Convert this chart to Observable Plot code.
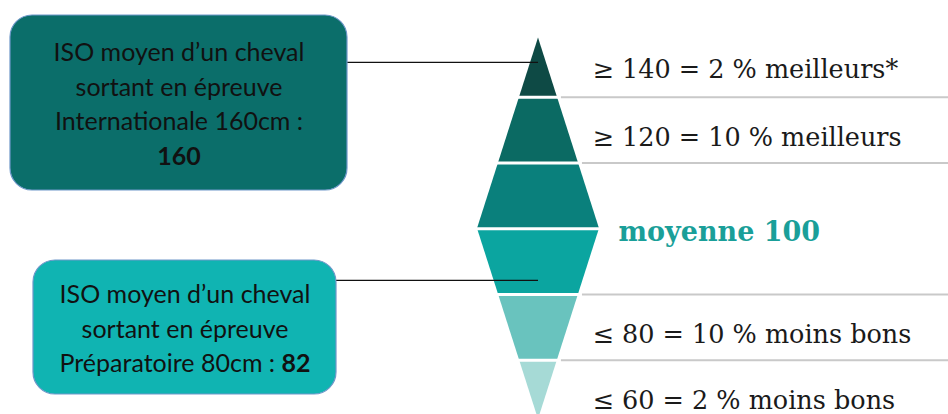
<!DOCTYPE html>
<html><head><meta charset="utf-8">
<script src="https://cdn.jsdelivr.net/npm/d3@7"></script>
<script src="https://cdn.jsdelivr.net/npm/@observablehq/plot@0.6"></script>
<style>body{margin:0;background:#fff;overflow:hidden}</style>
</head><body><div id="chart"></div>
<script>
// ---- data (ISO scale) ----
const bandTop    = [158, 140, 120, 100, 80, 60];
const bandBottom = [140, 120, 100, 80, 60, 42];
const bandColors = ["#0e4a45", "#0b6a63", "#0a807c", "#0ba5a0", "#69c3be", "#a6dad6"];
const boundaries = [140, 120, 100, 80, 60];
const separatorIso = [140, 120, 80, 60];
const labelTexts = ["≥ 140 = 2 % meilleurs*", "≥ 120 = 10 % meilleurs", "moyenne 100", "≤ 80 = 10 % moins bons", "≤ 60 = 2 % moins bons"];
const labelIso   = [148.2, 127.6, 98.8, 67.7, 47.7];
const labelBold  = [false, false, true, false, false];
const calloutIso = [150.6, 84.3];
const calloutFill = ["#0b6e6a", "#10b4b2"];
const calloutText = [
  [[["ISO moyen d’un cheval", false]], [["sortant en épreuve", false]], [["Internationale 160cm :", false]], [["160", true]]],
  [[["ISO moyen d’un cheval", false]], [["sortant en épreuve", false]], [["Préparatoire 80cm : ", false], ["82", true]]]
];

// ---- layout ----
const W = 948, H = 414;
const cx = 538, maxHW = 61, apexTop = 158, apexBottom = 42, mid = 100;
const yOpts = {domain: [160, 40], range: [31, 425.5]};
const ys = Plot.scale({y: yOpts});
const boxPx = [{x1: 10, x2: 347, top: 15, bottom: 190}, {x1: 33, x2: 336, top: 260, bottom: 394}];
const hw = v => maxHW * (1 - Math.abs(v - mid) / (apexTop - mid));

// diamond bands
const bandPts = bandTop.flatMap((t, i) => [t, bandBottom[i]].map(v => ({band: i, y: v, x1: cx - hw(v), x2: cx + hw(v)})));

// box text segments measured with canvas
const ctx = document.createElement("canvas").getContext("2d");
const boxFont = "Lato", boxSize = 25, lineGap = 34.5;
const segs = [];
calloutText.forEach((lines, b) => {
  const bx = boxPx[b], ccx = (bx.x1 + bx.x2) / 2, ccy = (bx.top + bx.bottom) / 2 + 2;
  lines.forEach((line, li) => {
    const widths = line.map(([t, bold]) => { ctx.font = `${bold ? "bold " : ""}${boxSize}px ${boxFont}`; return ctx.measureText(t).width; });
    const total = d3.sum(widths);
    let x = ccx - total / 2;
    const y = ys.invert(ccy + (li - (lines.length - 1) / 2) * lineGap);
    line.forEach(([t, bold], k) => { segs.push({t, bold, x, y}); x += widths[k]; });
  });
});

const boxes = boxPx.map((b, i) => ({x1: b.x1, x2: b.x2, y1: ys.invert(b.top), y2: ys.invert(b.bottom), fill: calloutFill[i]}));
const labels = labelTexts.map((t, i) => ({t, y: labelIso[i], bold: labelBold[i]}));

const plot = Plot.plot({
  width: W, height: H,
  marginTop: 0, marginBottom: 0, marginLeft: 0, marginRight: 0,
  x: {domain: [0, W], range: [0, W], axis: null},
  y: {...yOpts, axis: null},
  style: {background: "white", overflow: "hidden"},
  marks: [
    Plot.areaX(bandPts, {y: "y", x1: "x1", x2: "x2", z: "band", fill: d => bandColors[d.band], curve: "linear"}),
    Plot.ruleY(boundaries, {x1: v => cx - hw(v) - 2, x2: v => cx + hw(v) + 2, stroke: "white", strokeWidth: 3}),
    Plot.ruleY(separatorIso, {x1: v => cx + hw(v) + 4, x2: W, stroke: "#c9c9c9", strokeWidth: 2}),
    Plot.ruleY(calloutIso, {x1: (v, i) => boxPx[i].x2, x2: cx, stroke: "#111", strokeWidth: 1.3}),
    Plot.rect(boxes, {x1: "x1", x2: "x2", y1: "y1", y2: "y2", fill: "fill", rx: 22, stroke: "#6e97c9", strokeWidth: 1.2}),
    Plot.text(segs.filter(d => !d.bold), {x: "x", y: "y", text: "t", textAnchor: "start", fontFamily: boxFont, fontSize: boxSize, fill: "#111"}),
    Plot.text(segs.filter(d => d.bold), {x: "x", y: "y", text: "t", textAnchor: "start", fontFamily: boxFont, fontSize: boxSize, fontWeight: "bold", fill: "#111"}),
    Plot.text(labels.filter(d => !d.bold), {x: 592, y: "y", text: "t", textAnchor: "start", fontFamily: "DejaVu Serif", fontSize: 25.5, fill: "#1a1a1a"}),
    Plot.text(labels.filter(d => d.bold), {x: 618, y: "y", text: "t", textAnchor: "start", fontFamily: "DejaVu Serif", fontSize: 27, fontWeight: "bold", fill: "#1a9f99"})
  ]
});
document.getElementById("chart").appendChild(plot);
</script>
</body></html>
